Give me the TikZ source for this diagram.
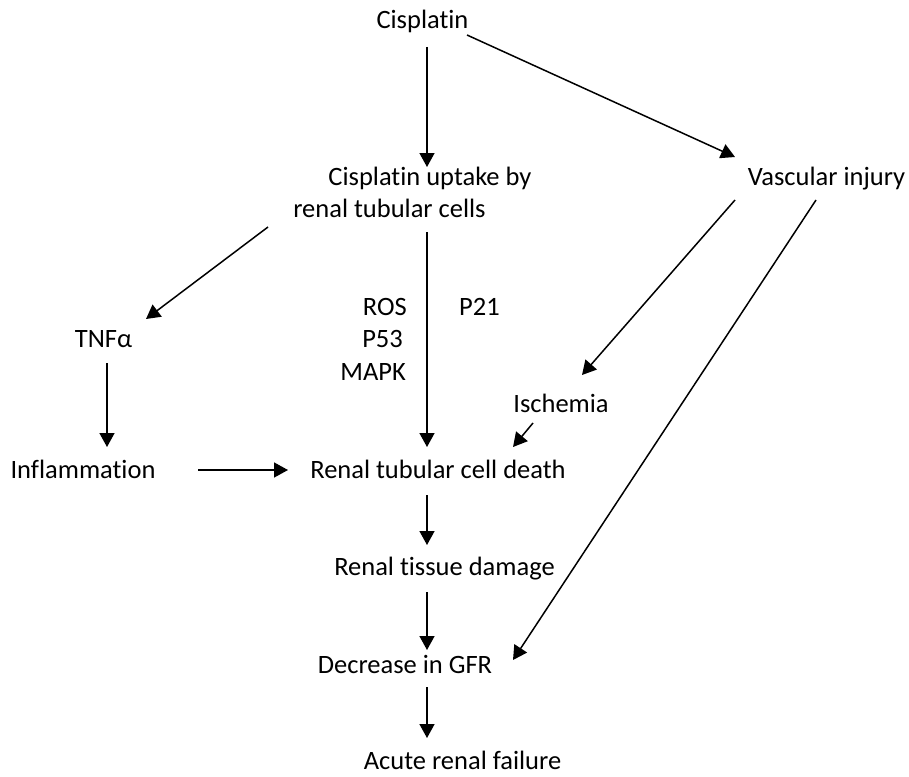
\documentclass[tikz,border=0pt]{standalone}
\usepackage{fontspec}
\setmainfont{Carlito}[Ligatures={NoCommon,NoRequired,NoContextual}]
\usetikzlibrary{arrows.meta}
\begin{document}
\begin{tikzpicture}[x=1pt,y=-1pt,
  lbl/.style={inner sep=0pt,anchor=base,font=\fontsize{26.5}{32}\selectfont},
  lble/.style={lbl,anchor=base east},
  arr/.style={line width=1.5pt,-{Triangle[length=14pt,width=15pt]}}]
\useasboundingbox (0,0) rectangle (909,776);
% nodes
\node[lbl] (cis) at (422.5,29) {Cisplatin};
\node[lbl] (up1) at (430,185) {Cisplatin uptake by};
\node[lbl] (up2) at (389.5,217) {renal tubular cells};
\node[lbl] (vas) at (826.5,185) {Vascular injury};
\node[lbl] (tnf) at (103.5,347) {TNFα};
\node[lble] (ros) at (407,315) {ROS};
\node[lble] (p53) at (403,347) {P53};
\node[lble] (mapk) at (406,380) {MAPK};
\node[lbl] (p21) at (479.5,315) {P21};
\node[lbl] (isc) at (561,412) {Ischemia};
\node[lbl] (inf) at (83,478) {Inflammation};
\node[lbl] (rtcd) at (438,478) {Renal tubular cell death};
\node[lbl] (rtd) at (444.5,575) {Renal tissue damage};
\node[lbl] (gfr) at (405,673) {Decrease in GFR};
\node[lbl] (arf) at (462.5,769) {Acute renal failure};
% connector ends
\coordinate (c1s) at (427,47);   \coordinate (c1e) at (427,167);
\coordinate (c2s) at (467,35);   \coordinate (c2e) at (735,157);
\coordinate (c3s) at (268,227);  \coordinate (c3e) at (146,319);
\coordinate (c4s) at (427,232);  \coordinate (c4e) at (427,447);
\coordinate (c5s) at (735,200);  \coordinate (c5e) at (582,375);
\coordinate (c6s) at (816,200);  \coordinate (c6e) at (513,660);
\coordinate (c7s) at (107,363);  \coordinate (c7e) at (107,447);
\coordinate (c8s) at (198,470);  \coordinate (c8e) at (288,470);
\coordinate (c9s) at (533,423);  \coordinate (c9e) at (513,447);
\coordinate (c10s) at (427,495); \coordinate (c10e) at (427,545);
\coordinate (c11s) at (427,592); \coordinate (c11e) at (427,650);
\coordinate (c12s) at (427,687); \coordinate (c12e) at (427,738);
% connectors
\draw[arr] (c1s) -- (c1e);
\draw[arr] (c2s) -- (c2e);
\draw[arr] (c3s) -- (c3e);
\draw[arr] (c4s) -- (c4e);
\draw[arr] (c5s) -- (c5e);
\draw[arr] (c6s) -- (c6e);
\draw[arr] (c7s) -- (c7e);
\draw[arr] (c8s) -- (c8e);
\draw[arr] (c9s) -- (c9e);
\draw[arr] (c10s) -- (c10e);
\draw[arr] (c11s) -- (c11e);
\draw[arr] (c12s) -- (c12e);
\end{tikzpicture}
\end{document}
